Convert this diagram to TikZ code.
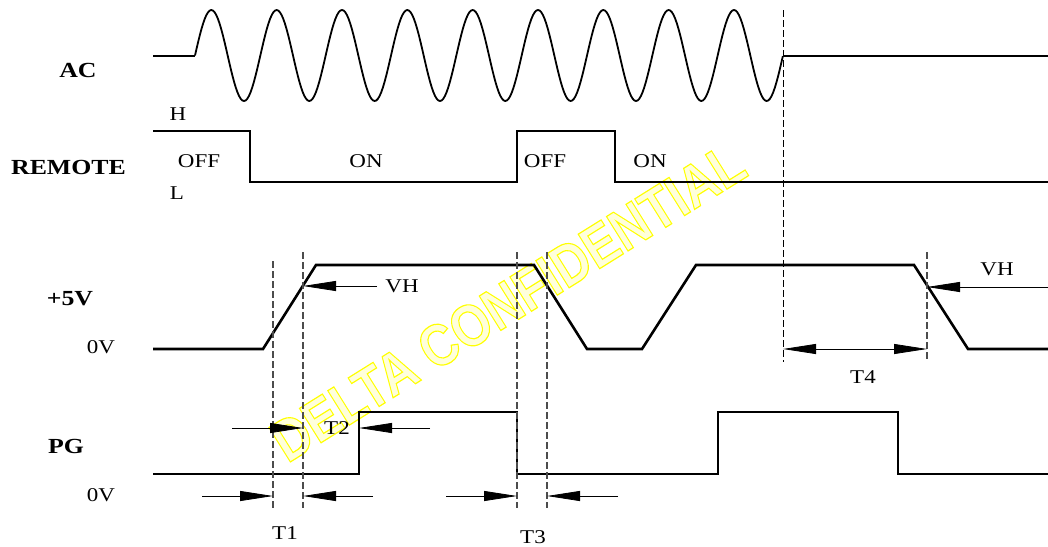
\documentclass[tikz,border=0pt]{standalone}
\usepackage{fontspec}
\setmainfont{Liberation Serif}
\newfontfamily\wmfamily{Liberation Sans}
\usetikzlibrary{arrows.meta}
\definecolor{wmfill}{rgb}{1,1,0.86}
\tikzset{
  wave/.style={line width=2.6pt, line join=miter},
  acwave/.style={line width=1.8pt},
  guide/.style={draw=black!70, line width=1.1pt, dash pattern=on 7pt off 3pt},
  guideblk/.style={draw=black, line width=1pt, dash pattern=on 7pt off 3pt},
  meas/.style={line width=0.8pt, -{Triangle[length=33pt,width=10pt]}},
  measboth/.style={line width=0.8pt, {Triangle[length=33pt,width=10pt]}-{Triangle[length=33pt,width=10pt]}},
  sig/.style={font=\fontsize{21.5}{24}\selectfont\bfseries, xscale=1.2, inner sep=0pt},
  lbl/.style={font=\fontsize{19.5}{23}\selectfont, xscale=1.18, inner sep=0pt},
}
\begin{document}
\begin{tikzpicture}[x=1pt,y=-1pt]
\useasboundingbox (0,0) rectangle (1048,546);
% watermark
\node[rotate=32, yscale=1.18, text=wmfill, font=\wmfamily\bfseries\fontsize{50}{55}\selectfont, inner sep=0pt] (wm) at (508,302)
  {\special{pdf:literal direct 1 1 0 RG 2 Tr 1 w}DELTA CONFIDENTIAL\special{pdf:literal direct 0 Tr}};

% signal names
\node[sig] (ac) at (78,70) {AC};
\node[sig] (remote) at (68.5,167) {REMOTE};
\node[sig] (v5) at (70,298.5) {+5V};
\node[sig] (pg) at (66,446) {PG};
\node[lbl] (zv1) at (101,347) {0V};
\node[lbl] (zv2) at (101,495) {0V};
\node[lbl] (hh) at (178,114) {H};
\node[lbl] (ll) at (177,193) {L};
\node[lbl] (off1) at (199,161) {OFF};
\node[lbl] (on1) at (366,161) {ON};
\node[lbl] (off2) at (545,161) {OFF};
\node[lbl] (on2) at (650,161) {ON};

% AC
\draw[acwave] (153,56) -- (195,56);
\draw[acwave] plot[domain=0:9, samples=361] ({195+65.333*\x}, {55.5-45.5*sin(360*\x)});
\draw[acwave] (783,56) -- (1048,56);

% REMOTE
\draw[wave] (153,131) -- (250,131) -- (250,182) -- (517,182) -- (517,131) -- (615,131) -- (615,182) -- (1048,182);

% +5V
\draw[wave] (153,349) -- (263,349) -- (316,265) -- (534,265) -- (587,349) -- (642,349) -- (696,265) -- (914,265) -- (968,349) -- (1048,349);

% PG
\draw[wave] (153,474) -- (359,474) -- (359,412) -- (517,412) -- (517,474) -- (718,474) -- (718,412) -- (898,412) -- (898,474) -- (1048,474);

% guide lines
\draw[guide] (273,261) -- (273,508);
\draw[guide] (303,252) -- (303,508);
\draw[guide] (517,252) -- (517,508);
\draw[guide] (547,252) -- (547,508);
\draw[guide] (927,252) -- (927,362);
\draw[guideblk] (783,10) -- (783,362);

% coordinates for measures
\coordinate (vh1s) at (377,286);
\coordinate (vh1e) at (303,286);
\coordinate (vh2s) at (1048,287);
\coordinate (vh2e) at (927,287);
\coordinate (t4a) at (783,349);
\coordinate (t4b) at (927,349);
\coordinate (t2as) at (232,428);
\coordinate (t2ae) at (303,428);
\coordinate (t2bs) at (430,428);
\coordinate (t2be) at (359,428);
\coordinate (t1as) at (202,496);
\coordinate (t1ae) at (273,496);
\coordinate (t1bs) at (373,496);
\coordinate (t1be) at (303,496);
\coordinate (t3as) at (446,496);
\coordinate (t3ae) at (517,496);
\coordinate (t3bs) at (618,496);
\coordinate (t3be) at (547,496);

\draw[meas] (vh1s) -- (vh1e);
\draw[meas] (vh2s) -- (vh2e);
\draw[measboth] (t4a) -- (t4b);
\draw[meas] (t2as) -- (t2ae);
\draw[meas] (t2bs) -- (t2be);
\draw[meas] (t1as) -- (t1ae);
\draw[meas] (t1bs) -- (t1be);
\draw[meas] (t3as) -- (t3ae);
\draw[meas] (t3bs) -- (t3be);

\node[lbl] (vh1) at (402,286) {VH};
\node[lbl] (vh2) at (997,269) {VH};
\node[lbl] (t4) at (863,377) {T4};
\node[lbl] (t2) at (337,428) {T2};
\node[lbl] (t1) at (285,533) {T1};
\node[lbl] (t3) at (533,537) {T3};
\end{tikzpicture}
\end{document}
